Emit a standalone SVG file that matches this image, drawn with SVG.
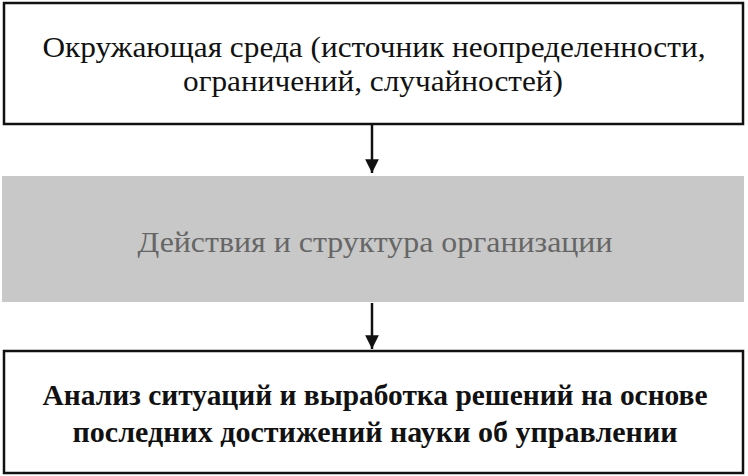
<svg xmlns="http://www.w3.org/2000/svg" width="748" height="476" viewBox="0 0 748 476">
<style>
.box{fill:#fff;stroke:#111;stroke-width:2.5}
.t{font-family:"Liberation Serif","DejaVu Serif",serif;font-size:29px;fill:#111;text-anchor:middle}
.b{font-weight:bold}
.g{fill:#666}
.c{stroke:#111;stroke-width:2.5;fill:none}
</style>
<defs>
<marker id="ah" viewBox="0 0 10 10" refX="10" refY="5" markerWidth="5.5" markerHeight="5.5" markerUnits="strokeWidth" orient="auto">
<path d="M0,0 L10,5 L0,10 z" fill="#111"/>
</marker>
</defs>
<rect width="748" height="476" fill="#fff"/>
<g id="env">
<rect class="box" x="4" y="3" width="739" height="121"/>
<text class="t" x="374" y="57" textLength="663" lengthAdjust="spacingAndGlyphs">Окружающая среда (источник неопределенности,</text>
<text class="t" x="373" y="91" textLength="380" lengthAdjust="spacingAndGlyphs">ограничений, случайностей)</text>
</g>
<g id="org">
<rect x="2" y="176" width="742" height="126" fill="#c8c8c8"/>
<text class="t g" x="375" y="252" textLength="475" lengthAdjust="spacingAndGlyphs">Действия и структура организации</text>
</g>
<g id="analysis">
<rect class="box" x="4" y="351" width="739" height="122"/>
<text class="t b" x="375" y="405" textLength="665" lengthAdjust="spacingAndGlyphs">Анализ ситуаций и выработка решений на основе</text>
<text class="t b" x="375" y="442" textLength="605" lengthAdjust="spacingAndGlyphs">последних достижений науки об управлении</text>
</g>
<g id="connectors">
<line class="c" x1="372" y1="125" x2="372" y2="173" marker-end="url(#ah)"/>
<line class="c" x1="372" y1="303" x2="372" y2="349" marker-end="url(#ah)"/>
</g>
</svg>
